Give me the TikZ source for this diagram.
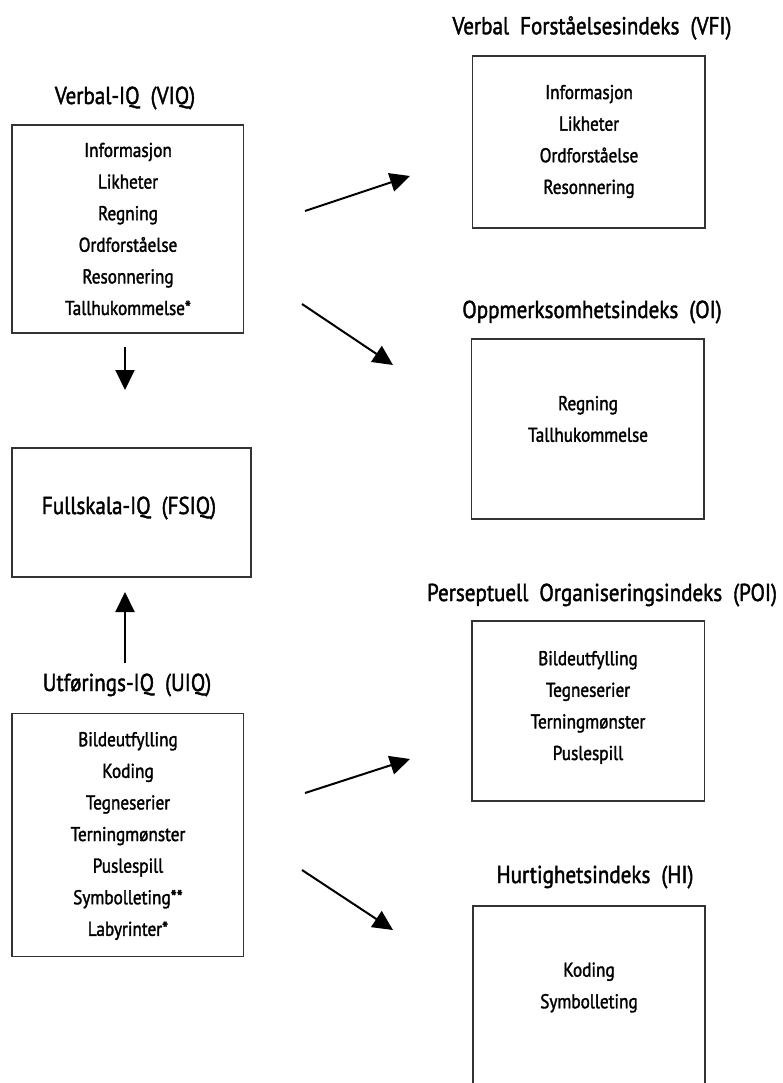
\documentclass[tikz,border=0pt]{standalone}
\usepackage{fontspec}
\setmainfont{PT Sans}[FakeStretch=0.86, FakeBold=1.6]
\usetikzlibrary{arrows.meta}
\newcommand{\gap}{\hspace{0.45em}}
\tikzset{
  box/.style={draw=black!80, line width=1.3pt, minimum width=#1, inner sep=0pt},
  title/.style={font=\fontsize{24.5}{28}\selectfont, inner sep=0pt},
  items/.style={font=\fontsize{20}{31.6}\selectfont, align=center, inner sep=0pt},
  arr/.style={line width=2pt, -{Triangle[length=20pt,width=19pt]}},
}
\begin{document}
\begin{tikzpicture}[x=1pt,y=-1pt]
\useasboundingbox (0,0) rectangle (782,1083);
% left column
\node[title] (tviq) at (125,98) {Verbal-IQ\gap(VIQ)};
\node[box=231.7pt, minimum height=208pt] (viq) at (127.85,229) {};
\node[items] (iviq) at (128,229) {Informasjon\\Likheter\\Regning\\Ordforståelse\\Resonnering\\Tallhukommelse*};

\node[box=239pt, minimum height=129pt] (fsiq) at (131.5,512.5) {};
\node[title] (tfsiq) at (129,508) {Fullskala-IQ\gap(FSIQ)};

\node[title] (tuiq) at (127,685) {Utførings-IQ\gap(UIQ)};
\node[box=231.7pt, minimum height=243pt] (uiq) at (127.85,835) {};
\node[items] (iuiq) at (128,836) {Bildeutfylling\\Koding\\Tegneserier\\Terningmønster\\Puslespill\\Symbolleting**\\Labyrinter*};

% right column
\node[title] (tvfi) at (592,28) {Verbal\gap Forståelsesindeks\gap(VFI)};
\node[box=232.3pt, minimum height=172pt] (vfi) at (588.85,142) {};
\node[items] (ivfi) at (589,141.5) {Informasjon\\Likheter\\Ordforståelse\\Resonnering};

\node[title] (toi) at (592,312) {Oppmerksomhetsindeks\gap(OI)};
\node[box=232.3pt, minimum height=180pt] (oi) at (587.85,429) {};
\node[items] (ioi) at (588,419) {Regning\\Tallhukommelse};

\node[title] (tpoi) at (602,595) {Perseptuell\gap Organiseringsindeks\gap(POI)};
\node[box=232.3pt, minimum height=180pt] (poi) at (588,711) {};
\node[items] (ipoi) at (588,707.5) {Bildeutfylling\\Tegneserier\\Terningmønster\\Puslespill};

\node[title] (thi) at (595,877) {Hurtighetsindeks\gap(HI)};
\coordinate (hiBL) at (473,1090);
\coordinate (hiTL) at (473,906);
\coordinate (hiTR) at (705,906);
\coordinate (hiBR) at (705,1090);
\draw[draw=black!80, line width=1.3pt] (hiBL) -- (hiTL) -- (hiTR) -- (hiBR);
\node[items] (ihi) at (589,987.5) {Koding\\Symbolleting};

% arrows
\coordinate (a1s) at (305,211); \coordinate (a1e) at (410,176);
\coordinate (a2s) at (302,304); \coordinate (a2e) at (393,365);
\coordinate (a3s) at (305,793); \coordinate (a3e) at (410,759);
\coordinate (a4s) at (302,870); \coordinate (a4e) at (393,930);
\coordinate (a5s) at (125,347); \coordinate (a5e) at (125,390);
\coordinate (a6s) at (125,663); \coordinate (a6e) at (125,592);
\draw[arr] (a1s) -- (a1e);
\draw[arr] (a2s) -- (a2e);
\draw[arr] (a3s) -- (a3e);
\draw[arr] (a4s) -- (a4e);
\draw[arr] (a5s) -- (a5e);
\draw[arr] (a6s) -- (a6e);
\end{tikzpicture}
\end{document}
